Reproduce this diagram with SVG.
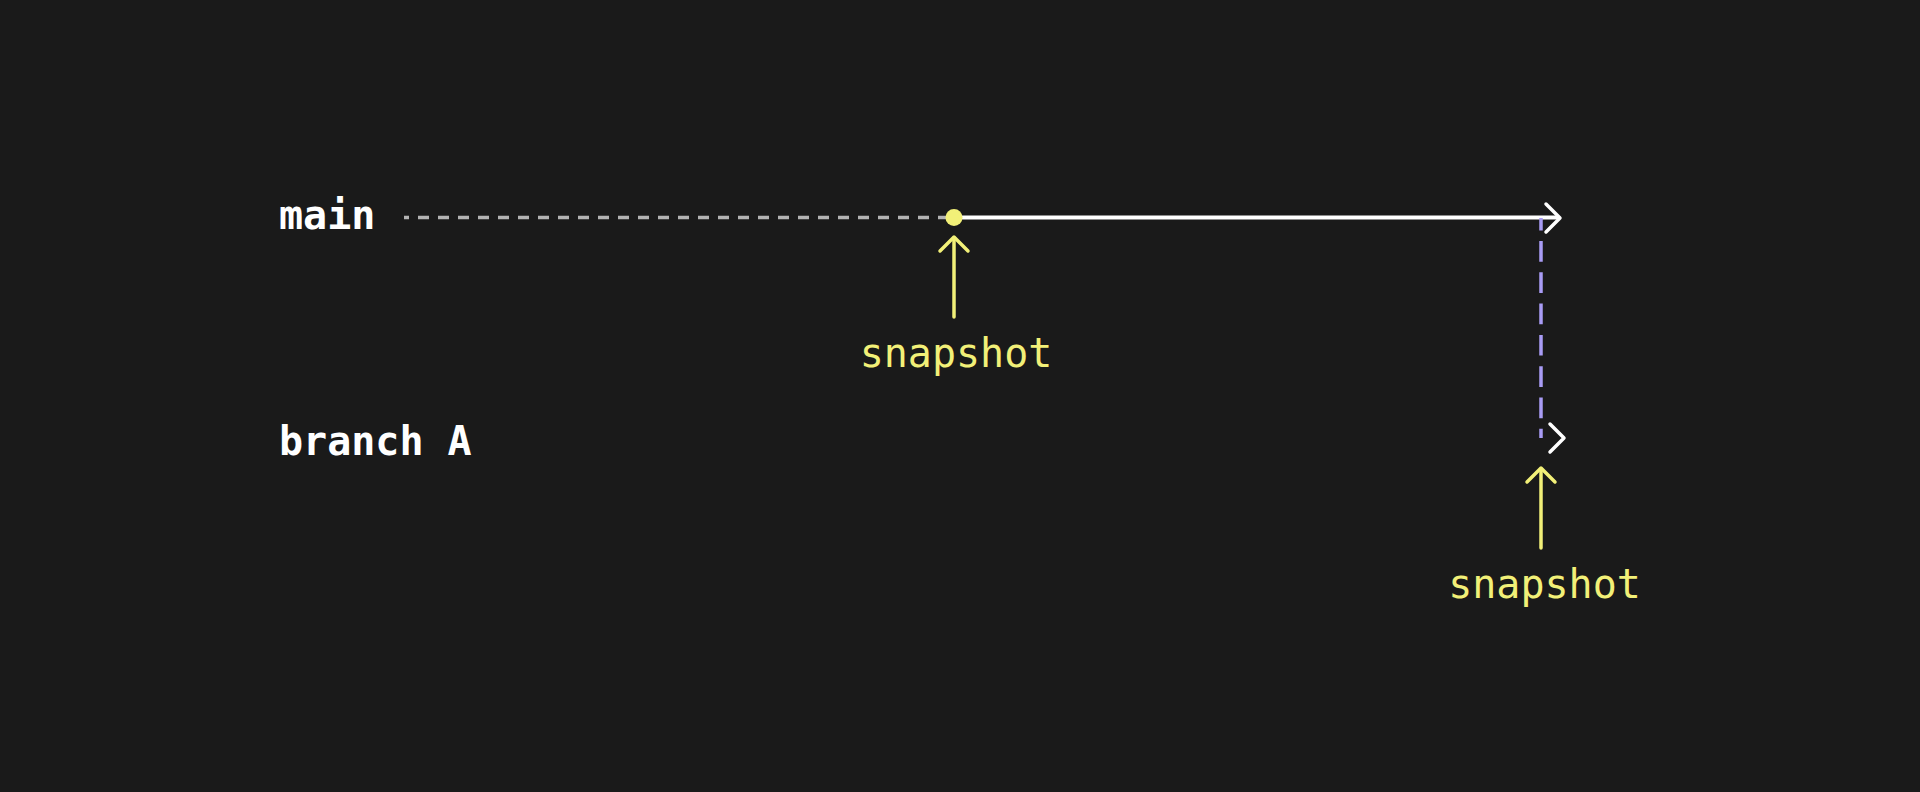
<svg xmlns="http://www.w3.org/2000/svg" width="1920" height="792" viewBox="0 0 1920 792">
<style>
.lbl{font-family:"DejaVu Sans Mono","Liberation Mono",monospace;font-size:40px;font-weight:bold;fill:#ffffff}
.snap{font-family:"DejaVu Sans Mono","Liberation Mono",monospace;font-size:40px;fill:#f2f078;text-anchor:middle}
.yel{stroke:#f2f078;stroke-width:3.5;fill:none;stroke-linecap:round;stroke-linejoin:round}
.wht{stroke:#ffffff;stroke-width:3.5;fill:none;stroke-linecap:round;stroke-linejoin:round}
</style>
<rect width="1920" height="792" fill="#1a1a1a"/>
<g id="label-main"><text class="lbl" x="279" y="228.5">main</text></g>
<g id="label-branch"><text class="lbl" x="279" y="455">branch A</text></g>
<g id="connectors">
<line x1="949" y1="217.5" x2="404" y2="217.5" stroke="#b3b3b3" stroke-width="3.5" stroke-dasharray="11 9"/>
<line x1="954" y1="217.5" x2="1558" y2="217.5" stroke="#ffffff" stroke-width="4"/>
<polyline class="wht" points="1546,204 1560,218 1546,232"/>
<line x1="1541" y1="218" x2="1541" y2="438" stroke="#a99cf5" stroke-width="3.5" stroke-dasharray="20.7 10.6" stroke-dashoffset="8.3"/>
<polyline class="wht" points="1550,424 1564,438 1550,452"/>
</g>
<g id="snapshot-1">
<circle cx="954" cy="217.5" r="8.5" fill="#f2f078"/>
<line class="yel" x1="954" y1="317" x2="954" y2="238"/>
<polyline class="yel" points="940,251 954,237 968,251"/>
<text class="snap" x="956" y="367">snapshot</text>
</g>
<g id="snapshot-2">
<line class="yel" x1="1541" y1="548" x2="1541" y2="469"/>
<polyline class="yel" points="1527,482 1541,468 1555,482"/>
<text class="snap" x="1544.5" y="598">snapshot</text>
</g>
</svg>
